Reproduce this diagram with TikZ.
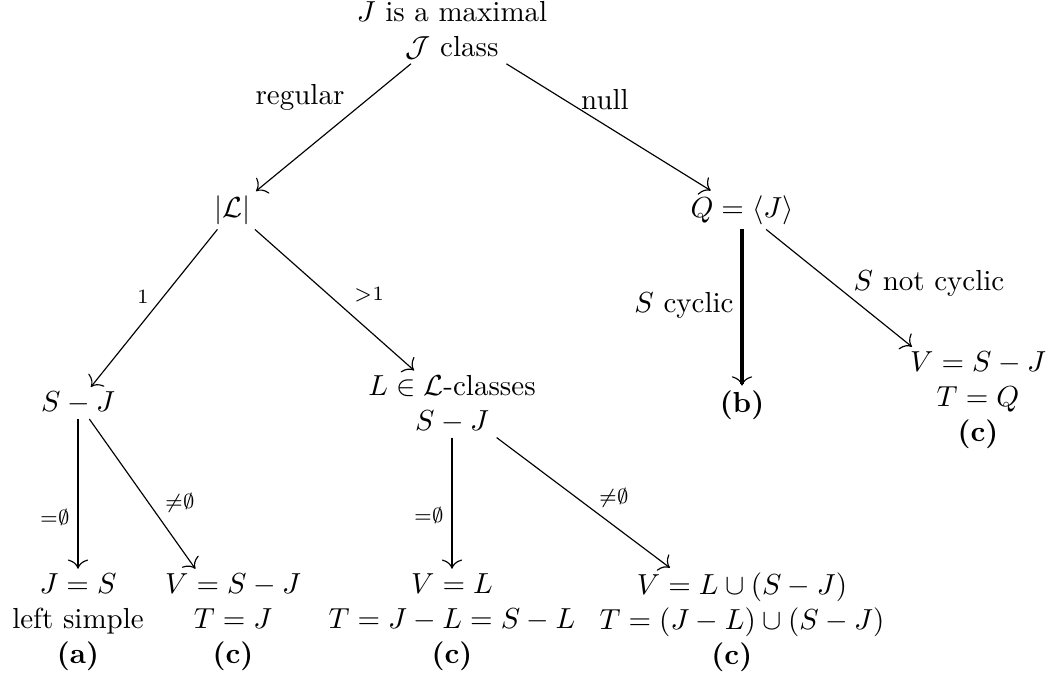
\documentclass[tikz,border=0pt]{standalone}
\usepackage{amsmath,amssymb}
\usetikzlibrary{arrows,arrows.meta}
\usetikzlibrary{math}

\begin{document}
\begin{tikzpicture}[x=0.345pt,y=-0.345pt,>={To[length=3.2pt,width=7pt]},
  txt/.style={align=center,inner sep=1.5pt},
  lbl/.style={inner sep=0pt},
  arr/.style={->,line width=0.4pt},
  varr/.style={-{To[length=3.2pt,width=7pt,line width=0.4pt]},line width=0.55pt},
  thickarr/.style={-{To[length=3.2pt,width=7pt,line width=0.4pt]},line width=1.2pt}]
\tikzmath{
\colA=78; \colB=233; \colC=452; \colD=742; \colE=978;
}
\useasboundingbox (0,0) rectangle (1053,681);
% the tree
\node[txt] (top) at (\colC,30) {$J$ is a maximal\\$\mathcal{J}$ class};
\node[txt] (card) at (\colB,210) {$|\mathcal{L}|$};
\node[txt] (Q) at (\colD,210) {$Q=\langle J\rangle$};
\node[txt] (SJa) at (\colA,403) {$S-J$};
\node[txt] (SJb) at (\colC,404) {$L\in\mathcal{L}$-classes\\$S-J$};
\node[txt] (caseb) at (\colD,405) {\textbf{(b)}};
\node[txt] (casec3) at (\colE,400) {$V=S-J$\\$T=Q$\\\textbf{(c)}};
\node[txt] (casea) at (\colA,622) {$J=S$\\left simple\\\textbf{(a)}};
\node[txt] (casec1) at (\colB,622) {$V=S-J$\\$T=J$\\\textbf{(c)}};
\node[txt] (casec2) at (\colC,622) {$V=L$\\$T=J-L=S-L$\\\textbf{(c)}};
\node[txt] (casec4) at (\colD,622) {$V=L\cup(S-J)$\\$T=(J-L)\cup(S-J)$\\\textbf{(c)}\hspace*{7pt}};

\draw[arr] (top) -- (card);
\draw[arr] (top) -- (Q);
\draw[arr] (card) -- (SJa);
\draw[arr] (card) -- (SJb);
\draw[thickarr] (Q) -- (caseb);
\draw[arr] (Q) -- (casec3);
\draw[varr] (SJa) -- (casea);
\draw[arr] (SJa) -- (casec1);
\draw[varr] (SJb) -- (casec2);
\draw[arr] (SJb) -- (casec4);

% labels
\node (lreg) at (300,97) {regular};
\node (lnull) at (605,100) {null};
\node[lbl] (lone) at (143,297) {$\scriptstyle 1$};
\node[lbl] (lmore) at (369,295) {$\scriptstyle>1$};
\node (lcyc) at (684,305) {$S$ cyclic};
\node (lncyc) at (929,283) {$S$ not cyclic};
\node[lbl] (lemptya) at (55,517) {$\scriptstyle=\emptyset$};
\node[lbl] (lnonea) at (180,503) {$\scriptstyle\neq\emptyset$};
\node[lbl] (lemptyb) at (429,515) {$\scriptstyle=\emptyset$};
\node[lbl] (lnoneb) at (614,498) {$\scriptstyle\neq\emptyset$};
\end{tikzpicture}
\end{document}
